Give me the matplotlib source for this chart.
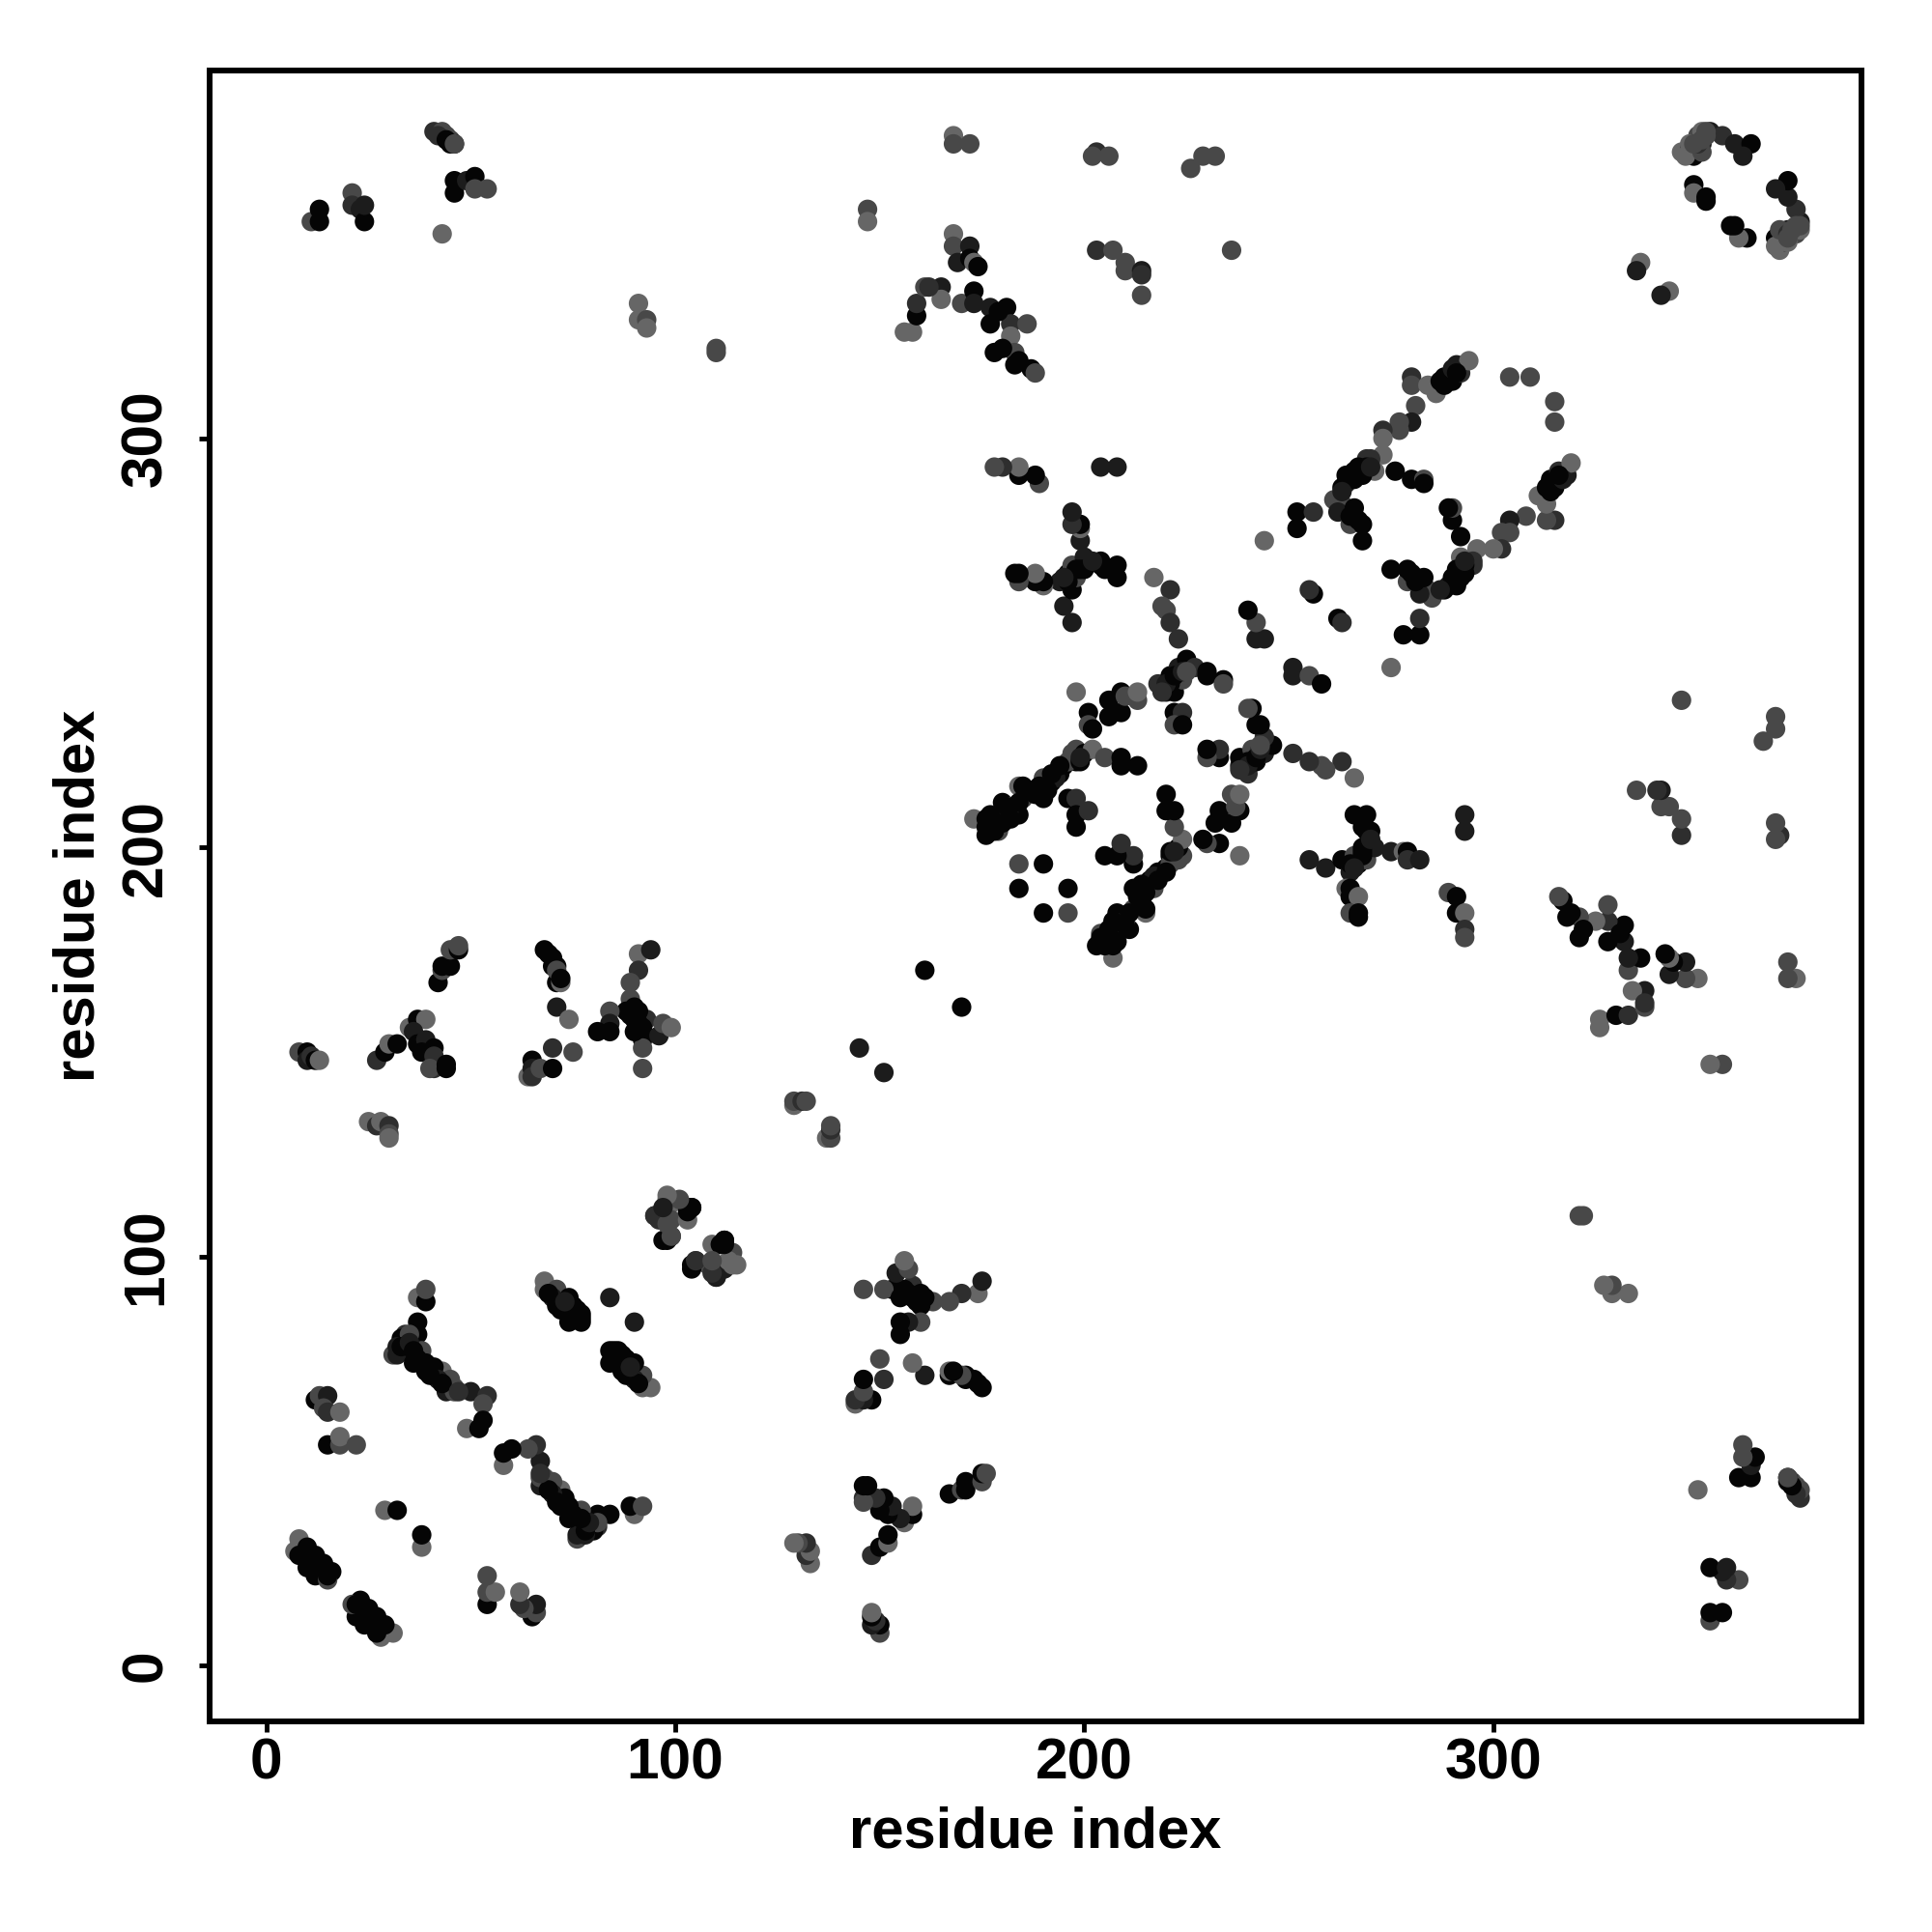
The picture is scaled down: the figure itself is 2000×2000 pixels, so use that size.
import numpy as np
import matplotlib
matplotlib.use('Agg')
import matplotlib.pyplot as plt

plt.rcParams['font.family'] = ['Liberation Sans', 'DejaVu Sans']

# contact pairs, one side of the diagonal only (i < j)
res_i = [
    8,10,10,11,12,13,
    25,27,28,30,30,30,
    27,29,30,32,35,37,39,36,37,39,38,41,41,41,40,44,44,
    42,43,43,45,45,47,47,
    68,70,71,71,72,71,74,
    70,75,64,65,65,65,67,70,
    91,94,91,89,89,90,88,84,84,84,81,90,93,92,92,92,92,96,97,99,
    95,98,99,103,104,97,99,96,99,104,105,109,112,111,114,115,110,108,112,
    37,39,39,
    37,37,34,33,31,32,32,35,38,39,36,39,41,43,45,46,44,46,50,54,53,53,49,52,
    12,13,15,14,15,18,15,18,18,22,
    29,32,
    8,7,10,8,12,10,14,12,16,15,15,
    68,68,71,70,74,74,71,74,77,77,77,69,84,
    11,13,13,21,21,23,24,24,41,43,44,45,46,46,46,49,51,51,54,43,
    147,147,91,91,93,93,110,110,
    168,168,172,203,202,206,226,229,232,236,203,207,210,210,214,214,214,
    156,158,159,159,161,165,165,170,168,168,169,172,172,173,173,173,177,177,181,182,182,186,178,183,183,187,188,
    336,335,
    346,348,349,350,351,353,356,359,363,361,349,349,352,352,347,348,351,352,351,
    173,176,176,179,180,181,184,184,185,185,190,190,192,194,195,198,197,198,200,202,205,209,209,213,
    178,182,187,193,196,199,
    196,198,198,201,198,
    201,201,202,206,206,209,209,210,213,213,198,
    223,242,244,242,240,218,220,222,221,223,225,224,227,230,230,234,234,
    222,224,222,224,
    184,190,184,161,145,129,129,131,132,
    280,280,284,286,288,290,288,290,291,292,294,304,309,
    281,280,277,277,273,273,273,271,270,269,267,266,268,265,264,263,261,263,262,266,266,265,268,268,
    252,256,252,244,276,280,283,283,256,255,
    197,195,197,194,198,196,200,204,197,199,199,199,197,197,
    190,190,188,188,184,184,183,
    189,188,184,184,180,178,204,208,
    208,208,205,200,200,198,204,
    217,221,219,220,221,
    # dense parts of the bands
    41,40,42,43,47,33,35,36,37,38,40,
    69,70,71,72,42,44,45,46,
    176,177,178,180,182,181,184,186,188,189,
    264,266,267,269,270,263,199,192,191,194,
    287,289,290,291,350,351,349,352,
    162,174,179,184,180,89,91,91,90,
    75,76,75,72,73,
    221,220,222,224,219,225,
    265,267,199,202,196,195,
]
res_j = [
    150,150,148,149,148,148,
    133,132,133,132,130,129,
    148,150,152,152,156,158,158,155,152,153,150,151,149,146,146,147,146,
    167,170,171,171,175,175,176,
    175,171,171,167,167,161,158,
    151,150,144,148,146,144,146,146,
    174,175,170,167,163,161,160,160,157,155,155,158,158,156,153,151,146,154,157,156,
    110,114,113,112,112,104,105,109,109,98,99,103,104,103,101,98,95,98,97,
    90,89,92,
    84,81,81,80,76,78,76,81,77,74,74,72,71,72,70,68,67,67,67,66,64,60,58,58,
    65,66,66,63,62,62,54,54,56,54,
    38,38,
    31,28,29,27,27,24,25,22,23,21,22,
    94,92,92,90,90,87,88,84,85,84,86,91,90,
    353,353,356,360,357,356,353,357,375,375,374,373,372,363,360,363,364,361,361,350,
    356,353,333,329,329,327,322,321,
    374,372,372,370,369,369,366,369,369,346,346,346,343,341,341,340,335,
    326,326,330,333,337,337,334,333,350,347,343,347,344,343,336,333,332,328,332,328,325,328,321,321,318,317,316,
    343,341,
    370,371,369,374,375,375,374,372,372,369,362,360,359,358,369,372,372,374,370,
    207,207,203,204,211,208,208,215,212,215,212,217,216,218,220,221,223,224,223,224,222,222,220,220,
    206,210,214,217,221,221,
    212,212,208,209,205,
    233,230,229,232,236,233,238,237,236,238,238,
    251,251,251,255,258,240,238,238,242,244,246,241,244,243,242,241,240,
    233,233,230,230,
    196,196,190,170,151,137,138,138,138,
    315,313,313,311,313,314,315,316,318,316,319,315,315,
    308,304,304,302,302,300,296,292,295,295,293,292,291,290,289,288,285,284,282,283,281,279,279,275,
    282,282,278,275,292,290,290,289,262,263,
    255,259,263,265,266,267,270,269,269,275,278,279,279,282,
    264,265,265,267,265,267,267,
    289,291,291,293,293,293,293,293,
    266,269,268,271,268,268,270,
    266,263,259,258,255,
    # dense parts of the bands
    73,72,70,69,67,78,79,77,75,74,71,
    174,173,170,168,374,373,372,372,
    205,208,204,206,207,210,211,214,213,215,
    291,290,291,293,293,287,222,218,214,220,
    314,315,317,316,372,373,372,375,
    337,342,331,319,322,159,160,157,155,
    86,87,88,87,89,
    240,240,242,243,238,243,
    281,280,268,270,265,266,
]
shade = [
    3,0,1,2,0,4,
    4,2,4,2,3,4,
    2,0,4,0,4,0,4,1,0,1,0,0,2,2,3,0,0,
    0,3,0,0,3,0,3,
    0,0,0,0,4,1,4,
    2,3,4,0,1,2,3,0,
    4,1,2,3,3,0,0,3,1,0,0,0,2,0,0,3,3,1,3,4,
    1,4,4,0,0,0,2,2,3,0,3,4,0,0,3,4,2,3,1,
    4,0,3,
    0,0,2,0,3,1,1,3,3,0,0,0,0,4,3,3,1,3,1,2,3,0,4,0,
    0,3,1,3,2,4,0,3,4,3,
    4,0,
    4,4,0,0,0,0,0,0,0,3,0,
    4,4,3,1,0,0,0,0,0,0,0,0,1,
    3,0,0,3,2,1,0,1,2,3,3,3,0,0,0,1,0,3,3,4,
    3,4,4,4,3,4,3,3,
    4,3,3,2,3,3,3,3,3,3,2,3,3,3,1,2,3,
    4,4,0,2,3,1,4,3,4,3,1,1,0,4,0,1,1,0,0,2,4,3,0,3,0,0,3,
    4,1,
    4,3,0,3,4,1,2,1,0,1,0,4,0,0,4,4,1,3,3,
    4,0,0,3,0,4,0,4,3,0,0,3,0,0,0,0,3,3,0,4,3,0,0,0,
    0,3,0,1,3,0,
    0,2,0,2,0,
    0,3,0,0,0,0,0,3,3,4,4,
    2,1,1,3,0,2,1,0,0,1,0,3,2,0,0,0,3,
    0,2,3,0,
    3,0,0,0,1,4,3,2,3,
    2,3,4,4,0,0,0,0,1,2,4,3,3,
    3,1,3,3,2,4,4,4,2,2,0,0,0,0,1,0,3,3,1,0,0,3,0,0,
    0,2,0,4,0,0,3,0,0,2,
    1,1,0,1,3,0,0,0,3,1,4,0,2,1,
    4,0,0,4,3,0,0,
    3,0,0,4,2,3,1,1,
    0,0,0,1,0,0,0,
    4,2,3,3,2,
    # dense parts of the bands
    0,0,1,0,2,0,1,0,0,0,0,
    0,0,3,0,2,0,0,3,
    0,0,0,0,0,0,0,0,0,0,
    0,0,0,0,1,1,1,0,0,0,
    0,0,1,0,2,3,3,3,
    2,0,0,0,0,0,0,0,0,
    0,0,0,0,1,
    0,1,0,1,2,3,
    0,0,0,1,0,1,
]
grey_levels = ['#050505', '#1c1c1c', '#2e2e2e', '#484848', '#666666']

tick_vals = [0, 100, 200, 300]

fig = plt.figure(figsize=(20, 20), dpi=100)
ax = fig.add_axes([216.8/2000, 1-1782/2000, (1927-216.8)/2000, (1782-72.7)/2000])

# map is symmetric, so every pair goes in both ways
xs = np.array(res_i + res_j)
ys = np.array(res_j + res_i)
cols = [grey_levels[s] for s in shade + shade]
ax.scatter(xs, ys, s=210, c=cols, linewidths=0)

ax.set_xlim(-13.9, 390)
ax.set_ylim(-13.6, 390)
ax.set_xticks(tick_vals)
ax.set_yticks(tick_vals)
ax.tick_params(axis='both', length=8, width=3.5, labelsize=43.5)
ax.tick_params(axis='x', pad=4)
ax.tick_params(axis='y', pad=19)
for lab in ax.get_xticklabels() + ax.get_yticklabels():
    lab.set_fontweight('bold')
for lab in ax.get_yticklabels():
    lab.set_rotation(90)
    lab.set_va('center')
for sp in ax.spines.values():
    sp.set_linewidth(4.3)

ax.set_xlabel('residue index', fontsize=43, fontweight='bold')
ax.set_ylabel('residue index', fontsize=43, fontweight='bold')
ax.xaxis.set_label_coords(0.5, -0.0513)
ax.yaxis.set_label_coords(-0.0625, 0.5)

fig.savefig('out.png', dpi=100, facecolor='white')
